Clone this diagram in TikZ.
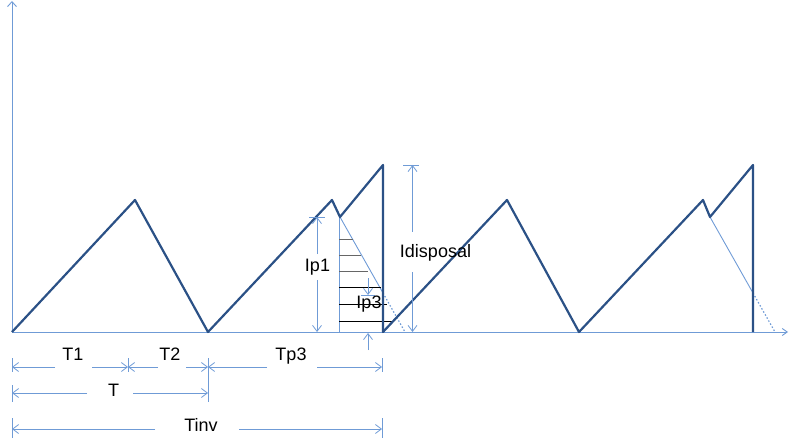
\documentclass[tikz,border=0pt]{standalone}
\usepackage{fontspec}
\setmainfont{Liberation Sans}
\usetikzlibrary{arrows.meta}
\definecolor{wave}{HTML}{2B5186}
\definecolor{dim}{HTML}{6F9BD6}
\begin{document}
\begin{tikzpicture}[x=1pt,y=-1pt,
  wavel/.style={draw=wave,line width=2.2pt,line join=round},
  thinl/.style={draw=dim,line width=0.9pt},
  dimarrow/.style={draw=dim,line width=0.8pt,-{Straight Barb[length=6pt,width=9pt]}},
  tick/.style={draw=dim,line width=0.9pt},
  lbl/.style={font=\fontsize{18}{21}\selectfont,anchor=base,inner sep=0pt},
  hatchl/.style={line width=0.8pt}]
\useasboundingbox (0,0) rectangle (789,446);
% axes
\coordinate (O) at (12,332);
\coordinate (ytop) at (12,1);
\coordinate (xend) at (788,332);
\draw[thinl,-{Straight Barb[length=5pt,width=9pt]}] (O) -- (ytop);
\draw[thinl,-{Straight Barb[length=5pt,width=7pt]}] (O) -- (xend);
% thin decay lines
\coordinate (d1a) at (340,217); \coordinate (d1b) at (383,293); \coordinate (d1c) at (405,332);
\coordinate (d2a) at (710,217); \coordinate (d2b) at (753,293); \coordinate (d2c) at (775,332);
\draw[thinl] (d1a) -- (d1b);
\draw[thinl,dash pattern=on 1.5pt off 2pt,line width=1.2pt] (d1b) -- (d1c);
\draw[thinl] (d2a) -- (d2b);
\draw[thinl,dash pattern=on 1.5pt off 2pt,line width=1.2pt] (d2b) -- (d2c);
% hatch region
\draw[thinl] (339,217) -- (339,332);
\foreach \yy/\xx/\cc in {239/352.7/black!60,255.7/361/black!60,271.7/368/black!60,287.7/380.7/black,304.3/387/black,321/394/black}
  \draw[hatchl,draw=\cc] (339,\yy) -- (\xx,\yy);
% waveform
\draw[wavel] (O) -- (135,200) -- (208,332) -- (332,200) -- (d1a) -- (383,165) -- (383,332)
  -- (507,200) -- (579,332) -- (703,200) -- (d2a) -- (753,165) -- (753,332);
% Ip1
\draw[tick] (309,217) -- (325,217);
\draw[dimarrow] (317,254) -- (317,217);
\draw[dimarrow] (317,280) -- (317,332);
\node[lbl] (ip1) at (317.5,272) {Ip1};
% Ip3
\draw[tick] (361,295) -- (375,295);
\draw[dimarrow] (368,278) -- (368,295);
\draw[dimarrow] (368,350) -- (368,333);
\node[lbl] (ip3) at (369,308) {Ip3};
% Idisposal
\draw[tick] (403,165) -- (419,165);
\draw[dimarrow] (412.5,232) -- (412.5,165);
\draw[dimarrow] (412.5,272) -- (412.5,332);
\node[lbl] (idisp) at (435.5,258) {Idisposal};
% bottom ticks
\draw[tick] (12,358) -- (12,372);
\draw[tick] (12,385) -- (12,402);
\draw[tick] (12,418) -- (12,438);
\draw[tick] (128,358) -- (128,372);
\draw[tick] (208,358) -- (208,402);
\draw[tick] (382,358) -- (382,372);
\draw[tick] (382,418) -- (382,438);
% T1
\draw[dimarrow] (55,367) -- (12,367);
\draw[dimarrow] (92,367) -- (128,367);
\node[lbl] (t1) at (73,360) {T1};
% T2
\draw[dimarrow] (158,367) -- (128,367);
\draw[dimarrow] (186,367) -- (208,367);
\node[lbl] (t2) at (170,360) {T2};
% Tp3
\draw[dimarrow] (267,367) -- (208,367);
\draw[dimarrow] (317,367) -- (382,367);
\node[lbl] (tp3) at (291,360) {Tp3};
% T
\draw[dimarrow] (87,393) -- (12,393);
\draw[dimarrow] (133,393) -- (208,393);
\node[lbl] (t) at (113.5,396) {T};
% Tinv
\draw[dimarrow] (155,429) -- (12,429);
\draw[dimarrow] (239,429) -- (382,429);
\node[lbl] (tinv) at (201,431.5) {Tinv};
\end{tikzpicture}
\end{document}
